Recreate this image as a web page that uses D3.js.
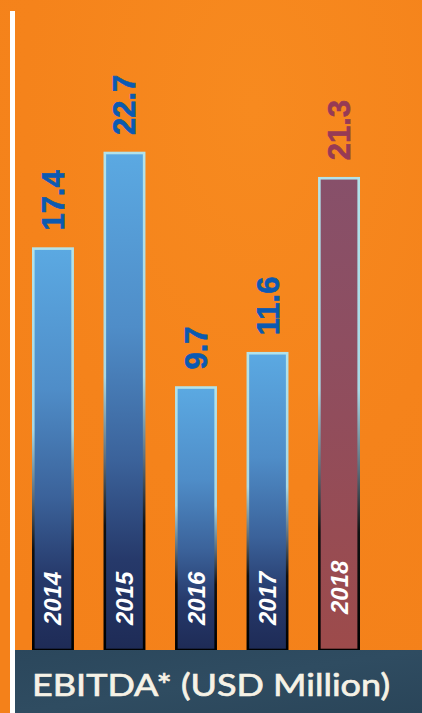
<!DOCTYPE html>
<html>
<head>
<meta charset="utf-8">
<script src="https://cdn.jsdelivr.net/npm/d3@7"></script>
<style>
  html, body { margin: 0; padding: 0; background: #f5841f; }
  svg { display: block; }
</style>
</head>
<body>
<svg id="chart" width="422" height="713"></svg>
<script>
// ---- data ----
const years = ["2014", "2015", "2016", "2017", "2018"];
const ebitda = [17.4, 22.7, 9.7, 11.6, 21.3];
const highlighted = [false, false, false, false, true];
const title = "EBITDA* (USD Million)";

const W = 422, H = 713;
const svg = d3.select("#chart");
const defs = svg.append("defs");

// background
const bgGrad = defs.append("radialGradient").attr("id", "bg")
  .attr("cx", "0.6").attr("cy", "0.15").attr("r", "0.9");
bgGrad.append("stop").attr("offset", "0").attr("stop-color", "#f78a1f");
bgGrad.append("stop").attr("offset", "0.6").attr("stop-color", "#f5831b");
bgGrad.append("stop").attr("offset", "1").attr("stop-color", "#f4811a");
svg.append("rect").attr("width", W).attr("height", H).attr("fill", "url(#bg)");

// white vertical rule
svg.append("rect").attr("x", 10).attr("y", 11).attr("width", 5).attr("height", H - 11).attr("fill", "#ffffff");

// gradients for bars
function lin(id, stops) {
  const g = defs.append("linearGradient").attr("id", id)
    .attr("x1", 0).attr("y1", 0).attr("x2", 0).attr("y2", 1);
  stops.forEach(s => g.append("stop").attr("offset", s[0]).attr("stop-color", s[1]));
}
lin("fillBlue", [[0, "#5ba9e2"], [0.35, "#4f8dc8"], [0.62, "#3b629a"], [0.82, "#26396a"], [1, "#1e2b56"]]);
lin("fillRed", [[0, "#87506a"], [0.5, "#914d5c"], [1, "#9d4b4b"]]);
lin("strokeGrad", [[0, "#b2e2ea"], [0.45, "#a8d8e4"], [0.62, "#5b6b78"], [0.75, "#111111"], [1, "#000000"]]);

// scales
const baseY = 650;
const x = d3.scaleBand().domain(years).range([19, 373]).paddingInner(0.45).paddingOuter(0.2);
const y = d3.scaleLinear().domain([-4.85, 22.7]).range([baseY, 153]);

const data = years.map((yr, i) => ({ year: yr, value: ebitda[i], hl: highlighted[i] }));

const g = svg.append("g");
g.selectAll("rect.bar").data(data).join("rect")
  .attr("class", "bar")
  .attr("x", d => x(d.year))
  .attr("y", d => y(d.value))
  .attr("width", x.bandwidth())
  .attr("height", d => baseY - y(d.value))
  .attr("fill", d => d.hl ? "url(#fillRed)" : "url(#fillBlue)")
  .attr("stroke", "url(#strokeGrad)")
  .attr("stroke-width", 2.6);

// value labels
g.selectAll("text.val").data(data).join("text")
  .attr("class", "val")
  .attr("transform", d => `translate(${x(d.year) + x.bandwidth() / 2 + 11},${y(d.value) - 18}) rotate(-90)`)
  .attr("text-anchor", "start")
  .attr("font-family", "Liberation Sans, Arial, sans-serif")
  .attr("font-weight", "bold")
  .attr("font-size", 31)
  .attr("stroke", d => d.hl ? "#973a55" : "#0b5ab2")
  .attr("stroke-width", 0.6)
  .attr("fill", d => d.hl ? "#973a55" : "#0b5ab2")
  .text(d => d.value.toFixed(1));

// year labels
g.selectAll("text.yr").data(data).join("text")
  .attr("class", "yr")
  .attr("transform", d => `translate(${x(d.year) + x.bandwidth() / 2 + 8.5},${baseY - (d.hl ? 36 : 25)}) rotate(-90)`)
  .attr("text-anchor", "start")
  .attr("font-family", "Liberation Sans, Arial, sans-serif")
  .attr("font-weight", "bold")
  .attr("font-style", "italic")
  .attr("font-size", 24)
  .attr("fill", "#ffffff")
  .text(d => d.year);

// footer band
const ftGrad = defs.append("linearGradient").attr("id", "ft")
  .attr("x1", 0).attr("y1", 0).attr("x2", 1).attr("y2", 1);
ftGrad.append("stop").attr("offset", 0).attr("stop-color", "#2b475c");
ftGrad.append("stop").attr("offset", 0.5).attr("stop-color", "#2f4c61");
ftGrad.append("stop").attr("offset", 1).attr("stop-color", "#2a4559");
svg.append("rect").attr("x", 15).attr("y", baseY).attr("width", W - 15).attr("height", H - baseY).attr("fill", "url(#ft)");

svg.append("text")
  .attr("x", 32).attr("y", 696)
  .attr("font-family", "Lato, 'Open Sans', sans-serif")
  .attr("font-size", 31)
  .attr("fill", "#f6f2e6")
  .attr("stroke", "#f6f2e6")
  .attr("stroke-width", 0.7)
  .attr("textLength", 358)
  .attr("lengthAdjust", "spacingAndGlyphs")
  .text(title);
</script>
</body>
</html>
